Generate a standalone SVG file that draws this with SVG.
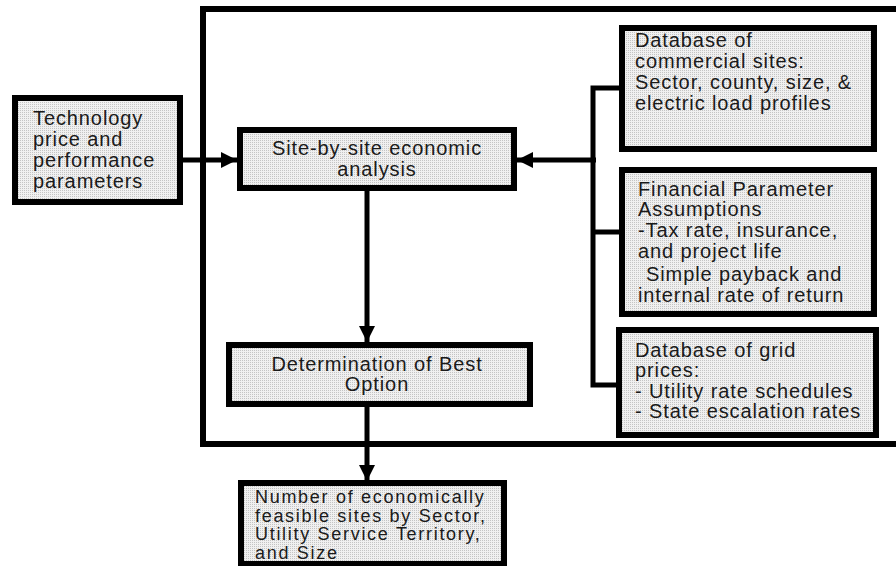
<svg xmlns="http://www.w3.org/2000/svg" width="896" height="566" viewBox="0 0 896 566">
<defs>
<pattern id="stip" width="2" height="2" patternUnits="userSpaceOnUse">
<rect width="2" height="2" fill="#f0f0f0"/>
<rect width="1" height="1" fill="#c4c4c4"/>
</pattern>
<marker id="ah" viewBox="0 0 10 10" refX="10" refY="5" markerWidth="3.2" markerHeight="3.6" markerUnits="strokeWidth" orient="auto">
<path d="M0,0 L10,5 L0,10 Z" fill="#000"/>
</marker>
<style>
.box{fill:url(#stip);stroke:#000;stroke-width:6}
.t{font-family:"Liberation Sans",Arial,sans-serif;font-size:20px;letter-spacing:0.9px;fill:#1a1a1a}
.s{font-size:18px;letter-spacing:1.7px}
.c{text-anchor:middle}
.ln{fill:none;stroke:#000;stroke-width:5}
.frame{fill:none;stroke:#000;stroke-width:6}
</style>
</defs>
<rect width="896" height="566" fill="#fff"/>
<path class="frame" d="M900,9 H203 V444 H900"/>
<g id="connectors">
<line class="ln" x1="183" y1="160" x2="237" y2="160" marker-end="url(#ah)"/>
<line class="ln" x1="596" y1="160" x2="517" y2="160" marker-end="url(#ah)"/>
<path class="ln" d="M620,88 H593 V385 H617"/>
<line class="ln" x1="593" y1="232" x2="620" y2="232"/>
<line class="ln" x1="367" y1="191" x2="367" y2="342" marker-end="url(#ah)"/>
<line class="ln" x1="367" y1="407" x2="367" y2="481" marker-end="url(#ah)"/>
</g>
<g id="tech">
<rect class="box" x="15" y="98" width="165" height="104"/>
<text class="t" x="33" y="125">Technology</text>
<text class="t" x="33" y="146">price and</text>
<text class="t" x="33" y="167">performance</text>
<text class="t" x="33" y="188">parameters</text>
</g>
<g id="site">
<rect class="box" x="240" y="130" width="274" height="58"/>
<text class="t c" x="377" y="155">Site-by-site economic</text>
<text class="t c" x="377" y="176">analysis</text>
</g>
<g id="db-commercial">
<rect class="box" x="622" y="28" width="252" height="121"/>
<text class="t" x="635" y="47">Database of</text>
<text class="t" x="635" y="68">commercial sites:</text>
<text class="t" x="635" y="89">Sector, county, size, &amp;</text>
<text class="t" x="635" y="110">electric load profiles</text>
</g>
<g id="financial">
<rect class="box" x="622" y="170" width="252" height="144"/>
<text class="t" x="638" y="196">Financial Parameter</text>
<text class="t" x="638" y="216">Assumptions</text>
<text class="t" x="638" y="237">-Tax rate, insurance,</text>
<text class="t" x="638" y="258">and project life</text>
<text class="t" x="646" y="281">Simple payback and</text>
<text class="t" x="638" y="302">internal rate of return</text>
</g>
<g id="grid">
<rect class="box" x="619" y="330" width="257" height="105"/>
<text class="t" x="635" y="357">Database of grid</text>
<text class="t" x="635" y="377">prices:</text>
<text class="t" x="635" y="398">- Utility rate schedules</text>
<text class="t" x="635" y="418">- State escalation rates</text>
</g>
<g id="determination">
<rect class="box" x="229" y="345" width="301" height="59"/>
<text class="t c" x="377" y="371">Determination of Best</text>
<text class="t c" x="377" y="391">Option</text>
</g>
<g id="output">
<rect class="box" x="241" y="483" width="263" height="81"/>
<text class="t s" x="255" y="503">Number of economically</text>
<text class="t s" x="255" y="521.5">feasible sites by Sector,</text>
<text class="t s" x="255" y="540">Utility Service Territory,</text>
<text class="t s" x="255" y="558.5">and Size</text>
</g>
</svg>
